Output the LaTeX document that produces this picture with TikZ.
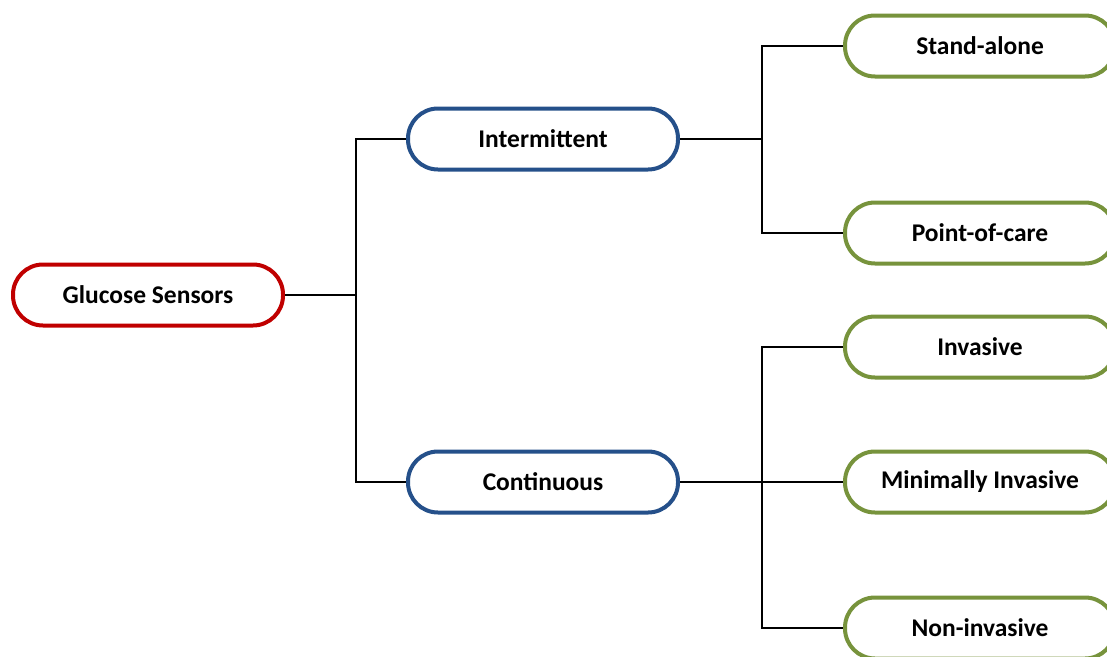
\documentclass[tikz,border=0pt]{standalone}
\usepackage{fontspec}
\setmainfont{Carlito}
\definecolor{rootred}{HTML}{C00000}
\definecolor{midblue}{HTML}{25508A}
\definecolor{leafgreen}{HTML}{77933C}
\begin{document}
\begin{tikzpicture}[x=1pt,y=-1pt,
  pill/.style={rectangle, rounded corners=30pt, minimum width=270pt, minimum height=61pt,
    inner sep=0pt, line width=4pt, fill=white, font=\fontsize{25.5}{30}\selectfont\bfseries},
  rootbox/.style={pill, draw=rootred},
  midbox/.style={pill, draw=midblue},
  leafbox/.style={pill, draw=leafgreen},
  conn/.style={draw=black, line width=1.4pt}]
\useasboundingbox (0,0) rectangle (1107,656);
\clip (0,0) rectangle (1107,656);
\coordinate (j1) at (356,0);
\coordinate (j2) at (762,0);
\node[rootbox] (gs) at (148,295) {Glucose Sensors};
\node[midbox] (int) at (543,139) {Intermittent};
\node[midbox] (cont) at (543,482) {Continuous};
\node[leafbox] (sa) at (980,46) {Stand-alone};
\node[leafbox] (poc) at (980,233) {Point-of-care};
\node[leafbox] (inv) at (980,347) {Invasive};
\node[leafbox] (min) at (980,482) {Minimally Invasive};
\node[leafbox] (non) at (980,628) {Non-invasive};
\draw[conn] (gs.east) -- (gs.east -| j1);
\draw[conn] (int.west) -- (int.west -| j1) -- (cont.west -| j1) -- (cont.west);
\draw[conn] (int.east) -- (int.east -| j2);
\draw[conn] (sa.west) -- (sa.west -| j2) -- (poc.west -| j2) -- (poc.west);
\draw[conn] (cont.east) -- (min.west);
\draw[conn] (inv.west) -- (inv.west -| j2) -- (non.west -| j2) -- (non.west);
\end{tikzpicture}
\end{document}
